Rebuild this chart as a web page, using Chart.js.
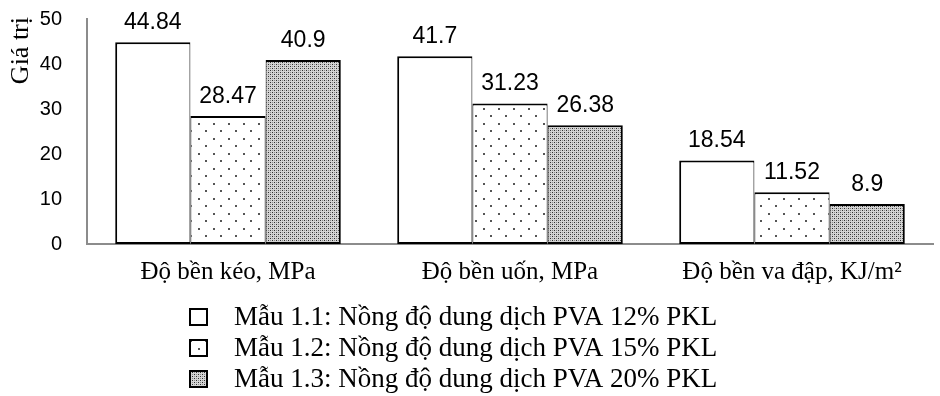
<!DOCTYPE html>
<html>
<head>
<meta charset="utf-8">
<script src="https://cdn.jsdelivr.net/npm/chart.js@4.4.1/dist/chart.umd.min.js"></script>
<style>
  html, body { margin: 0; padding: 0; background: #fff; }
  #wrap { width: 940px; height: 396px; position: relative; }
</style>
</head>
<body>
<div id="wrap"><canvas id="c"></canvas></div>
<script>
const categories = ['Độ bền kéo, MPa', 'Độ bền uốn, MPa', 'Độ bền va đập, KJ/m²'];
const seriesNames = [
  'Mẫu 1.1: Nồng độ dung dịch PVA 12% PKL',
  'Mẫu 1.2: Nồng độ dung dịch PVA 15% PKL',
  'Mẫu 1.3: Nồng độ dung dịch PVA 20% PKL'
];
const mau11 = [44.84, 41.7, 18.54];
const mau12 = [28.47, 31.23, 11.52];
const mau13 = [40.9, 26.38, 8.9];
const yMin = 0, yMax = 50, yStep = 10;
const yTitle = 'Giá trị';

const SERIF = '"Liberation Serif", "Times New Roman", serif';
const SANS = '"Liberation Sans", Arial, sans-serif';

function makePattern(size, draw) {
  const c = document.createElement('canvas');
  c.width = size; c.height = size;
  const g = c.getContext('2d');
  draw(g);
  return document.getElementById('c').getContext('2d').createPattern(c, 'repeat');
}
const sparseDots = makePattern(15, g => {
  g.fillStyle = '#fff'; g.fillRect(0, 0, 15, 15);
  g.fillStyle = '#555';
  g.fillRect(3, 3, 2, 2);
  g.fillRect(10, 10, 2, 2);
});
const denseDots = makePattern(4, g => {
  g.fillStyle = '#d4d4d4'; g.fillRect(0, 0, 4, 4);
  g.fillStyle = '#303030';
  g.fillRect(0, 0, 1, 1); g.fillRect(2, 2, 1, 1);
  g.fillStyle = '#8c8c8c';
  g.fillRect(2, 0, 1, 1); g.fillRect(0, 2, 1, 1);
});

const valueLabels = {
  id: 'valueLabels',
  afterDatasetsDraw(chart) {
    const ctx = chart.ctx;
    ctx.save();
    ctx.font = '23px ' + SANS;
    ctx.fillStyle = '#000';
    ctx.textAlign = 'center';
    ctx.textBaseline = 'bottom';
    chart.data.datasets.forEach((ds, di) => {
      chart.getDatasetMeta(di).data.forEach((bar, i) => {
        ctx.fillText(String(ds.data[i]), bar.x, bar.y - 8);
      });
    });
    ctx.restore();
  }
};

const yTitlePlugin = {
  id: 'yTitle',
  afterDraw(chart) {
    const ctx = chart.ctx;
    const top = chart.chartArea.top;
    ctx.save();
    ctx.font = '26px ' + SERIF;
    ctx.fillStyle = '#000';
    ctx.translate(21, top - 2);
    ctx.rotate(-Math.PI / 2);
    ctx.textAlign = 'right';
    ctx.textBaseline = 'middle';
    ctx.fillText(yTitle, 0, 0);
    ctx.restore();
  }
};

const customLegend = {
  id: 'customLegend',
  afterDraw(chart) {
    const ctx = chart.ctx;
    const bottom = chart.chartArea.bottom;
    ctx.save();
    ctx.font = '27px ' + SERIF;
    ctx.textAlign = 'left';
    ctx.textBaseline = 'middle';
    chart.data.datasets.forEach((ds, i) => {
      const cy = bottom + 73 + i * 31;
      ctx.fillStyle = ds.backgroundColor;
      ctx.fillRect(190, cy - 8, 17, 16);
      ctx.strokeStyle = '#000';
      ctx.lineWidth = 2;
      ctx.strokeRect(190, cy - 8, 17, 16);
      ctx.fillStyle = '#000';
      ctx.fillText(ds.label, 234, cy + 1);
    });
    ctx.restore();
  }
};

new Chart(document.getElementById('c'), {
  type: 'bar',
  data: {
    labels: categories,
    datasets: [
      { label: seriesNames[0], data: mau11, backgroundColor: '#ffffff', borderColor: '#000',
        borderWidth: { left: 2, right: 1, top: 2, bottom: 2 }, borderSkipped: false },
      { label: seriesNames[1], data: mau12, backgroundColor: sparseDots, borderColor: '#000',
        borderWidth: { left: 1, right: 1, top: 2, bottom: 2 }, borderSkipped: false },
      { label: seriesNames[2], data: mau13, backgroundColor: denseDots, borderColor: '#000',
        borderWidth: { left: 1, right: 2, top: 2, bottom: 2 }, borderSkipped: false }
    ]
  },
  options: {
    responsive: true,
    maintainAspectRatio: false,
    animation: false,
    events: [],
    datasets: { bar: { categoryPercentage: 0.8, barPercentage: 1.0, inflateAmount: 0 } },
    layout: { padding: { top: 19, right: 7, bottom: 112, left: 0 } },
    plugins: { legend: { display: false }, tooltip: { enabled: false } },
    scales: {
      x: {
        grid: { display: false, drawTicks: false },
        border: { display: true, color: '#8c8c8c', width: 2 },
        ticks: { font: { family: SERIF, size: 25 }, color: '#000', padding: 13, maxRotation: 0, autoSkip: false },
        afterFit(s) { s.height = 40; }
      },
      y: {
        min: yMin, max: yMax,
        grid: { display: false, drawTicks: false },
        border: { display: true, color: '#8c8c8c', width: 2 },
        ticks: { stepSize: yStep, font: { family: SANS, size: 20 }, color: '#000', padding: 25 },
        afterFit(s) { s.width = 87; s.paddingTop = 12; s.paddingBottom = 12; }
      }
    }
  },
  plugins: [valueLabels, yTitlePlugin, customLegend]
});
</script>
</body>
</html>
